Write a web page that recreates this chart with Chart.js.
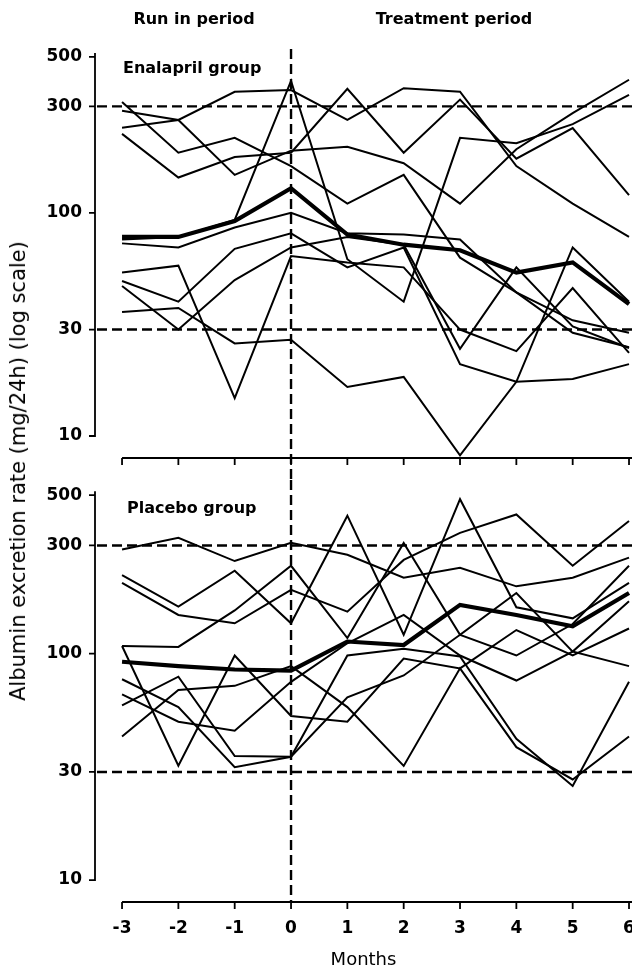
<!DOCTYPE html>
<html>
<head>
<meta charset="utf-8">
<script src="https://cdn.jsdelivr.net/npm/chart.js@4.4.1/dist/chart.umd.min.js"></script>
<style>
  body { margin: 0; background: #fff; }
  .wrap { position: relative; width: 632px; height: 972px; overflow: hidden; }
  #topChart { position: absolute; left: 0; top: 0; }
  #bottomChart { position: absolute; left: 0; top: 480px; }
  /* y title spans both panels */
  .ytitle {
    position: absolute; left: 18px; top: 471px;
    transform: translate(-50%, -50%) rotate(-90deg);
    font: 21px "DejaVu Sans"; white-space: nowrap; color: #000;
  }
</style>
</head>
<body>
<div class="wrap">
  <canvas id="topChart" width="632" height="480"></canvas>
  <canvas id="bottomChart" width="632" height="492"></canvas>
  <div class="ytitle">Albumin excretion rate (mg/24h) (log scale)</div>
</div>

<script>
// months -3 .. 6
const months = [-3, -2, -1, 0, 1, 2, 3, 4, 5, 6];
const yTicks = [10, 30, 100, 300, 500];
const refLevels = [30, 300];

// Enalapril group, individual patients (mg/24h)
const enal1 = [314, 186, 217, 162, 110, 148, 63, 44, 29, 25];
const enal2 = [287, 261, 148, 190, 198, 167, 110, 193, 280, 395];
const enal3 = [241, 261, 349, 355, 261, 362, 349, 162, 110, 78];
const enal4 = [226, 144, 178, 186, 360, 186, 322, 175, 240, 120];
const enal5 = [76, 78, 93, 390, 62, 40, 217, 205, 250, 338];
const enal6 = [73, 70, 86, 100, 81, 80, 76, 44, 33, 29];
const enal7 = [54, 58, 14.8, 64, 60, 57, 30, 24, 46, 23.6];
const enal8 = [49.5, 40, 69, 81, 57, 70, 21, 17.5, 18, 21];
const enal9 = [47, 30, 50, 70, 78, 72, 24.6, 57, 31, 24.8];
const enal10 = [36, 37.5, 26, 27, 16.6, 18.4, 8.2, 17.5, 70, 40];
const enalMean = [78, 78, 92, 129, 80, 72, 68, 54, 60, 39];

// Placebo group
const plac1 = [288, 324, 256, 308, 273, 216, 239, 198, 216, 265];
const plac2 = [222, 161, 232, 136, 406, 121, 480, 160, 143, 205];
const plac3 = [205, 148, 136, 191, 153, 259, 341, 411, 244, 385];
const plac4 = [108, 107, 155, 244, 117, 308, 121, 185, 102, 170];
const plac5 = [108, 32, 98, 53, 50, 95, 86, 127, 98, 129];
const plac6 = [77, 58, 31.5, 35, 98, 105, 97, 42, 26, 75];
const plac7 = [66, 50, 45.6, 75, 111, 148, 98, 76, 102, 88];
const plac8 = [59, 79, 35.3, 35, 64, 80, 121, 98, 135, 244];
const plac9 = [43, 69, 72, 88, 58, 31.9, 86, 38.6, 27.8, 43];
const placMean = [92, 88, 85, 84, 113, 109, 164, 148, 132, 185];

Chart.defaults.font.family = '"DejaVu Sans", sans-serif';
Chart.defaults.color = '#000';

// axes, dashed reference lines and panel texts
const panelDecor = {
  id: 'panelDecor',
  beforeDatasetsDraw(chart, args, opts) {
    const { ctx, chartArea, scales: { x, y } } = chart;
    ctx.save();
    ctx.strokeStyle = '#000';
    ctx.lineWidth = 1.8;
    ctx.beginPath();
    // y axis with ticks to the left
    ctx.moveTo(chartArea.left, y.getPixelForValue(520));
    ctx.lineTo(chartArea.left, y.getPixelForValue(10));
    yTicks.forEach(v => {
      const py = y.getPixelForValue(v);
      ctx.moveTo(chartArea.left - 6, py);
      ctx.lineTo(chartArea.left + 0.9, py);
    });
    // x axis, starts at the first month
    const ay = chartArea.bottom;
    ctx.moveTo(x.getPixelForValue(months[0]), ay);
    ctx.lineTo(chartArea.right, ay);
    months.forEach(m => {
      const px = x.getPixelForValue(m);
      ctx.moveTo(px, ay);
      ctx.lineTo(px, ay + 7);
    });
    ctx.stroke();

    ctx.setLineDash([10, 5]);
    ctx.lineWidth = 2.4;
    ctx.beginPath();
    refLevels.forEach(v => {
      const py = y.getPixelForValue(v);
      ctx.moveTo(chartArea.left + 2, py);
      ctx.lineTo(chartArea.right, py);
    });
    const zx = x.getPixelForValue(0);
    ctx.moveTo(zx, opts.dashTop);
    ctx.lineTo(zx, opts.dashBottom);
    ctx.stroke();
    ctx.restore();
  },
  afterDraw(chart, args, opts) {
    const ctx = chart.ctx;
    ctx.save();
    ctx.fillStyle = '#000';
    ctx.font = 'bold 16px "DejaVu Sans"';
    ctx.textBaseline = 'alphabetic';
    ctx.textAlign = 'left';
    ctx.fillText(opts.label, opts.labelX, opts.labelY);
    ctx.textAlign = 'center';
    (opts.headers || []).forEach(h => ctx.fillText(h[0], h[1], h[2]));
    ctx.restore();
  }
};

function makeChart(id, series, mean, yMin, yMax, padTop, xHeight, showX, decor) {
  const datasets = series.map(s => ({
    data: s.map((v, i) => ({ x: months[i], y: v })),
    borderColor: '#000',
    borderWidth: 2,
    pointRadius: 0,
    tension: 0,
    fill: false
  }));
  datasets.push({
    data: mean.map((v, i) => ({ x: months[i], y: v })),
    borderColor: '#000',
    borderWidth: 4.2,
    pointRadius: 0,
    tension: 0,
    fill: false
  });

  return new Chart(document.getElementById(id), {
    type: 'line',
    data: { datasets: datasets },
    options: {
      responsive: false,
      animation: false,
      layout: { padding: { top: padTop, left: 0, right: 0, bottom: 0 }, autoPadding: false },
      plugins: { legend: { display: false }, tooltip: { enabled: false }, panelDecor: decor },
      scales: {
        x: {
          type: 'linear',
          min: -3.48,
          max: 6.053,
          grid: { display: false, drawTicks: false },
          border: { display: false },
          afterBuildTicks: s => { s.ticks = months.map(v => ({ value: v })); },
          ticks: {
            display: showX, padding: 16, autoSkip: false, maxRotation: 0,
            font: { size: 17, weight: 'bold' }, color: '#000'
          },
          title: {
            display: showX, text: 'Months', color: '#000',
            font: { size: 18, lineHeight: 1 }, padding: { top: 4, bottom: 3 }
          },
          afterFit: s => { s.height = xHeight; s.paddingLeft = 0; s.paddingRight = 0; }
        },
        y: {
          type: 'logarithmic',
          min: yMin,
          max: yMax,
          grid: { display: false, drawTicks: false },
          border: { display: false },
          afterBuildTicks: s => { s.ticks = yTicks.map(v => ({ value: v })); },
          ticks: {
            padding: 13, color: '#000',
            font: { size: 17, weight: 'bold' },
            callback: v => String(v)
          },
          afterFit: s => { s.width = 95; s.paddingTop = 0; s.paddingBottom = 0; }
        }
      }
    },
    plugins: [panelDecor]
  });
}

makeChart('topChart',
  [enal1, enal2, enal3, enal4, enal5, enal6, enal7, enal8, enal9, enal10], enalMean,
  7.97, 537, 50, 22, false,
  {
    label: 'Enalapril group', labelX: 123, labelY: 73,
    headers: [['Run in period', 194, 24], ['Treatment period', 454, 24]],
    dashTop: 49, dashBottom: 480
  });

makeChart('bottomChart',
  [plac1, plac2, plac3, plac4, plac5, plac6, plac7, plac8, plac9], placMean,
  8.0, 538, 8, 70, true,
  {
    label: 'Placebo group', labelX: 127, labelY: 33,
    dashTop: 0, dashBottom: 422
  });
</script>
</body>
</html>
